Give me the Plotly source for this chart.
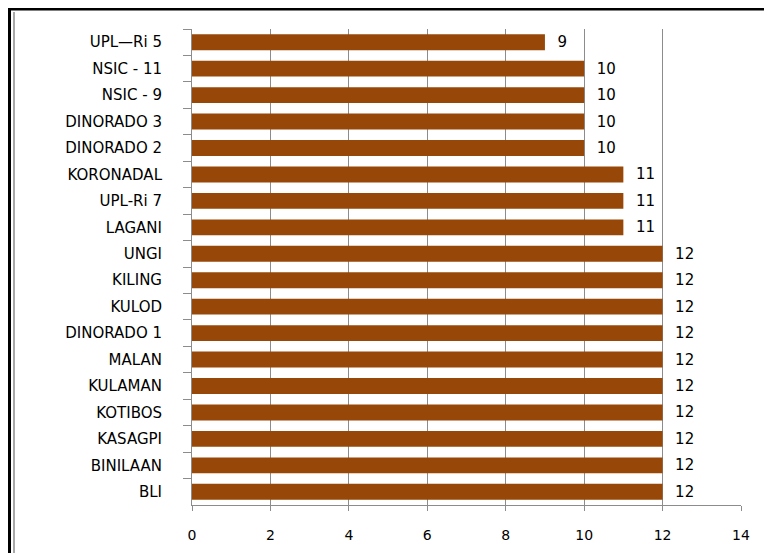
import plotly.graph_objects as go

categories = ["UPL\u2014Ri 5", "NSIC - 11", "NSIC - 9", "DINORADO 3", "DINORADO 2",
              "KORONADAL", "UPL-Ri 7", "LAGANI", "UNGI", "KILING", "KULOD",
              "DINORADO 1", "MALAN", "KULAMAN", "KOTIBOS", "KASAGPI", "BINILAAN", "BLI"]
values = [9, 10, 10, 10, 10, 11, 11, 11, 12, 12, 12, 12, 12, 12, 12, 12, 12, 12]
x_ticks = [0, 2, 4, 6, 8, 10, 12, 14]

# page has an 8px body margin; work in figure coordinates
W, H = 764, 545
L, R, T, B = 184, 31, 21, 48
pw, ph = W - L - R, H - T - B

def px(x):
    return (x - L) / pw

def py(y):
    return (H - B - y) / ph

fig = go.Figure(go.Bar(
    y=categories, x=values, orientation="h",
    marker=dict(color="#974808", line=dict(width=0)),
    width=0.6,
    text=["  " + str(v) for v in values],
    textposition="outside",
    constraintext="none",
    textfont=dict(family="DejaVu Sans", size=15, color="black"),
    cliponaxis=False,
))

fig.update_layout(
    width=W, height=H,
    margin=dict(l=L, r=R, t=T, b=B, autoexpand=False),
    paper_bgcolor="white", plot_bgcolor="white",
    showlegend=False,
    font=dict(family="DejaVu Sans", color="black"),
    xaxis=dict(range=[0, 14], tickvals=x_ticks, ticktext=[str(t) for t in x_ticks],
               showgrid=True, gridcolor="#8c8c8c", gridwidth=1,
               showline=True, linecolor="#8c8c8c", linewidth=1,
               ticks="outside", ticklen=5, tickcolor="#8c8c8c",
               tickfont=dict(size=14, color="black"), zeroline=False,
               ticklabelstandoff=12, automargin=False),
    yaxis=dict(categoryorder="array", categoryarray=categories, autorange="reversed",
               showgrid=False, showline=True, linecolor="#8c8c8c", linewidth=1,
               ticks="outside", ticklen=8, tickcolor="#8c8c8c", tickson="boundaries",
               tickfont=dict(size=15, color="black"), ticklabelstandoff=26,
               automargin=False),
    bargap=0.4,
    shapes=[
        dict(type="line", xref="paper", yref="paper", x0=px(1), x1=px(W + 5), y0=py(1), y1=py(1),
             line=dict(color="black", width=3)),
        dict(type="line", xref="paper", yref="paper", x0=px(1.5), x1=px(1.5), y0=py(0), y1=py(H + 5),
             line=dict(color="black", width=3)),
        dict(type="line", xref="paper", yref="paper", x0=px(6), x1=px(6), y0=py(4), y1=py(H + 5),
             line=dict(color="#8c8c8c", width=1.5)),
    ],
)

fig.write_html("out.html")
